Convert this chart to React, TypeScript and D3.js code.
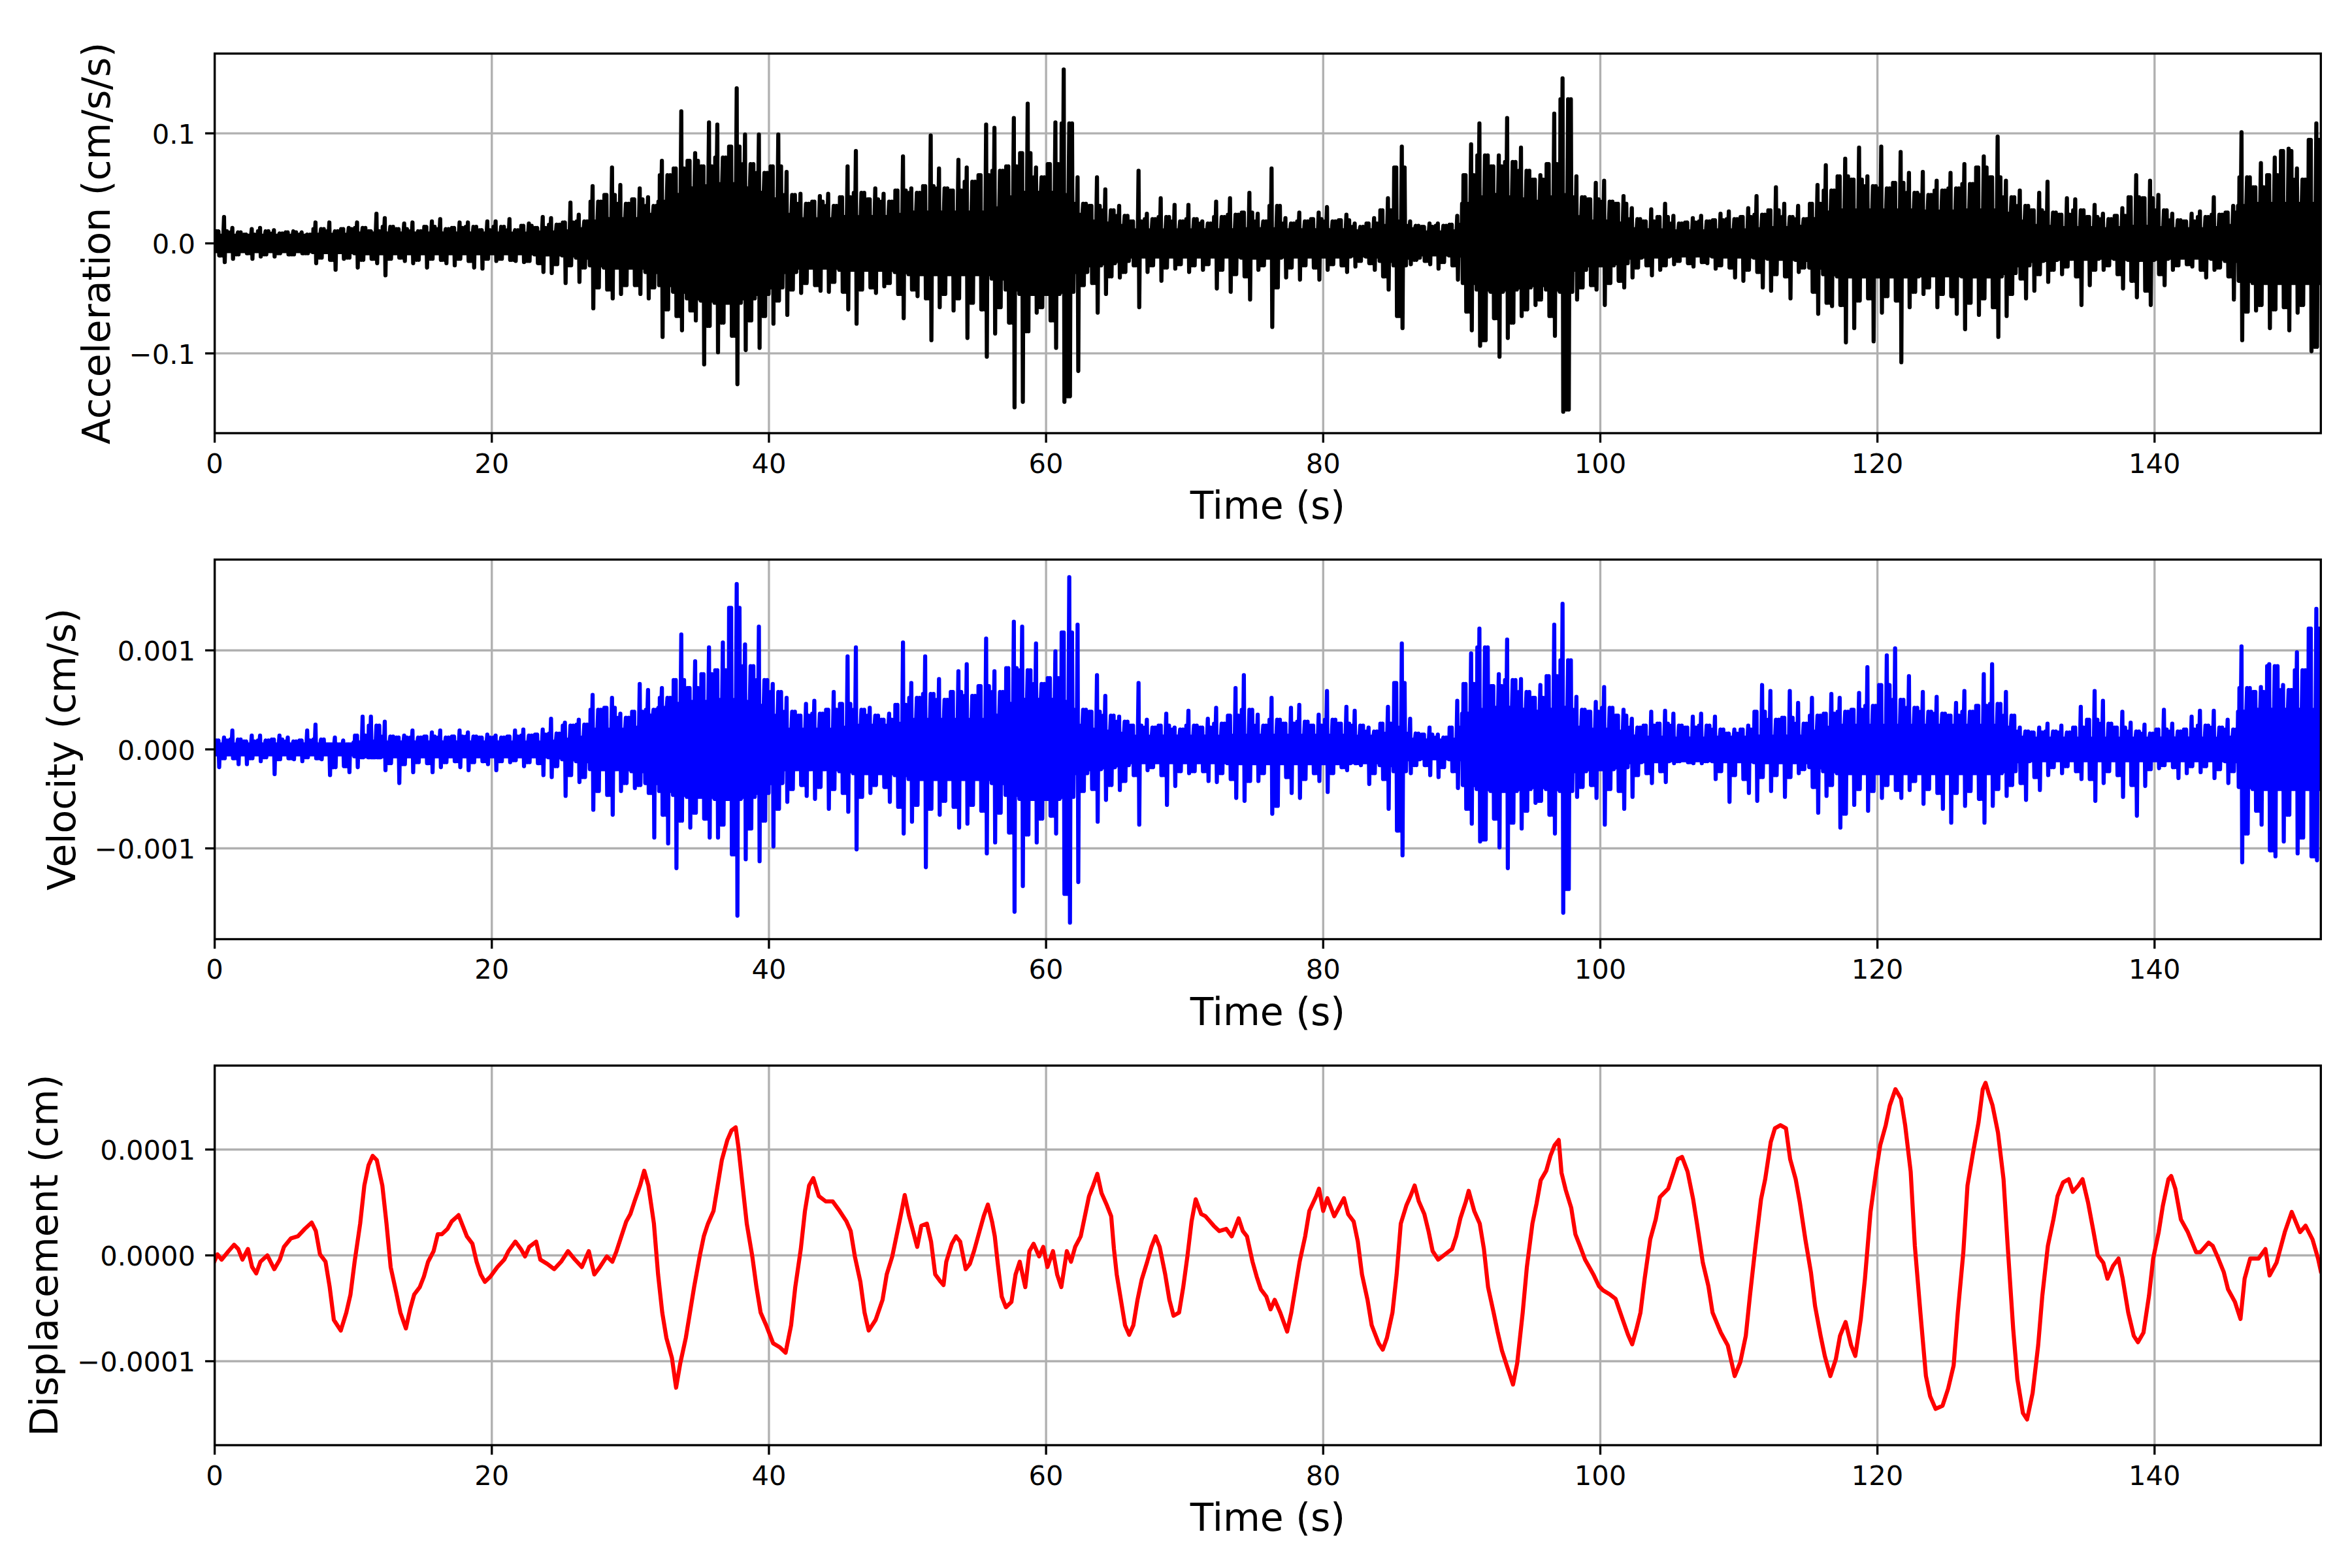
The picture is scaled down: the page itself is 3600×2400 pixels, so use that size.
import React from 'react';
import * as d3 from 'd3';

// ---------- DATA ----------
// Time axis
const timeMax = 152;
const xTickValues = [0, 20, 40, 60, 80, 100, 120, 140];
const xTickLabels = ['0', '20', '40', '60', '80', '100', '120', '140'];

// Acceleration trace, per 0.5 s bin: largest upward / downward excursion (units of 0.001 cm/s/s)
const accelHiMilli = [
  11,24, 14,10, 8,13, 14,11, 12,9, 10,11, 10,8, 19,13, 19,11, 13,14,
  19,14, 11,27, 23,15, 13,18, 19,11, 15,20, 22,13, 14,19, 19,15, 12,20,
  20,15, 22,12, 16,18, 14,24, 23,17, 19,37, 26,20, 52,38, 44,69, 53,36,
  40,50, 42,34, 75,62, 68,120, 75,82, 70,110, 108,78, 88,141, 99,72, 99,64,
  70,99, 65,44, 45,36, 38,43, 45,34, 42,70, 84,46, 40,50, 45,38, 48,79,
  50,46, 52,98, 68,50, 48,76, 69,56, 62,108, 105,66, 70,114, 82,127, 69,60,
  72,110, 158,109, 60,36, 34,60, 49,30, 34,25, 20,66, 27,22, 41,24, 35,20,
  35,22, 20,18, 38,24, 41,26, 28,46, 27,20, 68,34, 23,18, 28,20, 22,28,
  33,20, 21,26, 18,15, 18,23, 30,41, 69,88, 20,16, 15,18, 18,16, 17,25,
  62,90, 109,80, 70,80, 114,74, 87,66, 58,62, 72,118, 150,131, 61,42, 40,55,
  57,38, 36,43, 32,22, 20,31, 24,36, 25,18, 19,23, 25,20, 21,27, 29,22,
  24,32, 43,26, 30,51, 36,24, 34,22, 36,53, 71,48, 61,77, 58,87, 61,52,
  88,50, 55,83, 64,46, 65,44, 57,48, 64,50, 72,54, 69,79, 60,97, 57,42,
  48,34, 30,46, 56,28, 26,41, 40,30, 24,35, 27,22, 25,32, 42,62, 41,57,
  44,30, 27,21, 20,27, 29,24, 42,26, 28,34, 101,60, 51,73, 62,78, 84,86,
  68,58, 94,109,
];
const accelLoMilli = [
  -11,-17, -14,-10, -9,-14, -12,-10, -12,-9, -10,-10, -9,-9, -18,-13, -15,-24, -14,-13,
  -22,-15, -14,-18, -29,-14, -13,-16, -18,-15, -22,-14, -15,-18, -20,-14, -16,-22, -23,-14,
  -16,-14, -15,-16, -17,-16, -18,-26, -27,-19, -36,-20, -35,-22, -59,-40, -42,-50, -46,-38,
  -38,-46, -50,-40, -85,-60, -66,-79, -61,-70, -110,-75, -99,-72, -84,-128, -97,-70, -95,-66,
  -73,-52, -65,-42, -45,-36, -38,-43, -44,-35, -44,-60, -73,-42, -40,-45, -39,-36, -46,-68,
  -42,-48, -50,-88, -58,-46, -61,-50, -86,-54, -60,-103, -82,-58, -72,-149, -144,-80, -63,-58,
  -70,-95, -144,-139, -116,-38, -36,-63, -46,-30, -31,-26, -20,-58, -26,-20, -34,-22, -23,-19,
  -26,-20, -24,-19, -41,-24, -44,-28, -30,-51, -24,-20, -76,-40, -31,-22, -33,-20, -22,-33,
  -24,-19, -20,-26, -21,-16, -18,-24, -30,-42, -66,-77, -19,-15, -16,-19, -23,-17, -20,-33,
  -62,-79, -93,-88, -68,-103, -86,-72, -66,-60, -56,-51, -66,-84, -153,-151, -51,-40, -38,-42,
  -56,-36, -34,-40, -31,-22, -20,-29, -24,-20, -19,-16, -18,-21, -17,-18, -23,-20, -22,-31,
  -34,-24, -26,-40, -43,-28, -30,-50, -26,-22, -44,-64, -54,-57, -56,-90, -77,-52, -50,-89,
  -63,-48, -52,-108, -58,-44, -46,-40, -58,-46, -48,-64, -78,-54, -65,-50, -58,-85, -66,-46,
  -32,-50, -43,-28, -35,-24, -28,-21, -30,-56, -38,-24, -24,-20, -28,-41, -34,-49, -43,-56,
  -28,-38, -24,-20, -19,-21, -24,-31, -24,-22, -30,-51, -88,-62, -61,-56, -77,-60, -58,-79,
  -63,-56, -98,-94,
];
// Acceleration: half-width of the solid inner band of the trace, per 1 s (units of 0.001 cm/s/s)
const accelCoreMilli = [
  7,7,7,7,7,7,7,8,8,8,
  9,9,9,9,9,9,9,9,9,9,
  9,9,9,10,10,11,13,20,22,22,
  22,26,38,44,50,52,54,54,50,46,
  40,26,22,22,22,24,24,24,24,26,
  28,28,28,28,28,28,32,42,46,46,
  46,44,26,20,18,16,12,12,12,12,
  12,12,12,12,13,13,13,12,12,12,
  12,12,11,12,16,20,13,10,10,11,
  36,42,44,42,40,38,42,44,24,20,
  20,18,13,12,12,11,11,11,12,12,
  12,13,14,14,15,22,28,30,30,30,
  30,30,30,29,29,29,30,30,30,27,
  20,16,15,14,14,14,13,14,15,15,
  14,13,13,13,14,16,34,36,36,36,
  36,36,
];

// Velocity trace, per 0.5 s bin (units of 0.00001 cm/s)
const velocityHi1e5 = [
  9,12, 19,10, 8,14, 14,9, 10,14, 12,8, 9,19, 25,10, 3,12, 9,5,
  14,33, 33,24, 28,13, 12,14, 19,12, 13,17, 19,12, 13,19, 17,13, 12,15,
  14,12, 13,19, 20,14, 15,20, 31,16, 27,24, 30,25, 55,40, 42,52, 36,32,
  38,66, 60,40, 62,52, 70,116, 62,89, 76,103, 80,108, 143,167, 106,84, 124,70,
  66,58, 52,38, 34,46, 49,36, 40,58, 46,94, 103,40, 42,34, 30,36, 45,108,
  67,52, 94,56, 71,50, 58,79, 86,54, 64,112, 79,58, 82,129, 124,80, 107,66,
  72,99, 118,174, 126,40, 38,75, 54,34, 33,28, 24,67, 30,22, 24,36, 22,20,
  39,24, 22,31, 42,26, 34,62, 75,40, 35,24, 52,30, 26,42, 45,28, 24,35,
  59,30, 26,43, 39,24, 22,18, 26,43, 67,107, 31,16, 15,22, 15,12, 22,49,
  66,97, 122,103, 64,76, 111,70, 71,58, 52,65, 74,126, 147,90, 53,40, 38,48,
  63,42, 34,40, 31,22, 24,38, 26,39, 36,24, 22,33, 36,24, 33,20, 16,20,
  20,24, 38,65, 59,30, 32,59, 47,26, 52,34, 36,56, 52,38, 40,57, 83,44,
  65,95, 102,50, 74,42, 58,38, 53,36, 34,47, 59,38, 44,76, 86,46, 58,34,
  22,18, 17,22, 26,18, 24,17, 22,43, 30,59, 49,26, 22,38, 27,18, 25,16,
  20,40, 26,18, 20,33, 39,24, 39,22, 30,20, 104,62, 58,63, 86,84, 65,60,
  98,80, 122,142,
];
const velocityLo1e5 = [
  -18,-9, -9,-15, -15,-9, -12,-8, -25,-10, -9,-10, -12,-8, -9,-10, -26,-18, -17,-23,
  -18,-8, -6,0, -21,-14, -34,-15, -23,-13, -14,-23, -18,-13, -12,-18, -21,-13, -12,-15,
  -21,-12, -13,-11, -17,-13, -14,-26, -28,-17, -47,-26, -33,-28, -61,-42, -46,-66, -42,-34,
  -39,-36, -44,-89, -66,-95, -120,-72, -79,-64, -70,-89, -89,-76, -106,-168, -111,-80, -113,-72,
  -98,-60, -53,-40, -36,-47, -50,-38, -60,-40, -44,-63, -101,-48, -44,-36, -38,-53, -58,-85,
  -73,-56, -119,-60, -66,-52, -58,-79, -75,-56, -62,-105, -94,-64, -84,-164, -138,-86, -94,-70,
  -67,-85, -146,-175, -134,-42, -40,-73, -51,-36, -41,-32, -26,-76, -21,-18, -26,-56, -37,-22,
  -24,-22, -22,-32, -33,-24, -30,-49, -52,-32, -32,-24, -65,-57, -28,-44, -49,-30, -24,-32,
  -43,-24, -18,-21, -14,-16, -35,-24, -30,-60, -82,-107, -24,-16, -16,-26, -28,-18, -22,-39,
  -60,-75, -93,-91, -70,-99, -120,-74, -80,-62, -54,-52, -66,-85, -165,-141, -48,-38, -36,-49,
  -76,-40, -42,-60, -48,-26, -24,-34, -22,-33, -14,-12, -13,-14, -14,-12, -30,-22, -53,-26,
  -30,-44, -52,-28, -42,-26, -48,-28, -24,-20, -38,-64, -47,-36, -79,-65, -56,-40, -62,-42,
  -49,-36, -41,-49, -41,-32, -55,-40, -44,-60, -74,-44, -57,-42, -50,-74, -57,-40, -47,-36,
  -34,-51, -28,-41, -26,-18, -24,-17, -22,-30, -30,-52, -34,-22, -26,-48, -36,-67, -37,-20,
  -19,-16, -18,-29, -24,-17, -23,-17, -29,-20, -34,-22, -114,-85, -62,-76, -102,-108, -93,-66,
  -105,-89, -108,-112,
];
// Velocity: half-width of the solid inner band of the trace, per 1 s (units of 0.00001 cm/s)
const velocityCore1e5 = [
  5,5,5,5,5,5,5,5,5,5,
  7,8,7,7,7,7,7,7,7,7,
  7,7,7,7,8,10,12,20,20,20,
  22,34,42,46,48,48,50,50,48,44,
  34,20,20,20,20,22,24,24,24,26,
  30,30,30,30,30,30,34,46,50,50,
  50,48,24,20,18,16,13,13,13,13,
  13,13,13,14,14,14,14,14,14,14,
  14,14,13,13,16,22,10,9,9,10,
  36,40,42,42,40,38,40,42,22,20,
  20,18,13,12,12,11,11,11,12,12,
  12,13,13,13,13,18,22,24,24,24,
  24,24,24,24,24,24,24,24,24,22,
  12,11,11,11,11,11,11,11,11,11,
  11,11,11,11,11,12,38,40,40,40,
  40,40,
];

// Displacement samples: [time (s), displacement (units of 1e-6 cm)]
const displacementSamples: [number, number][] = [
  [0,-5],[0.2,1],[0.5,-4],[1.0,4],[1.4,10],[1.7,6],[2.0,-4],[2.4,6],[2.7,-11],[3.0,-17],[3.3,-6],[3.8,0],[4.3,-13],[4.7,-4],
  [5.0,8],[5.5,16],[6.0,18],[6.5,25],[7.0,31],[7.3,23],[7.6,1],[8.0,-6],[8.3,-30],[8.6,-61],[9.1,-71],[9.5,-54],[9.8,-37],
  [10.1,-6],[10.5,30],[10.8,66],[11.1,85],[11.4,94],[11.7,90],[12.1,66],[12.4,30],[12.7,-11],[13.1,-35],[13.4,-54],[13.8,-69],
  [14.1,-51],[14.4,-37],[14.8,-30],[15.1,-20],[15.4,-6],[15.8,4],[16.1,20],[16.4,20],[16.8,25],[17.1,32],[17.6,38],[17.9,28],
  [18.2,18],[18.6,11],[18.9,-6],[19.2,-18],[19.5,-25],[19.9,-20],[20.4,-11],[20.9,-4],[21.2,4],[21.7,13],[22.1,6],[22.4,-1],
  [22.7,8],[23.2,13],[23.5,-4],[24.0,-8],[24.5,-13],[25.0,-6],[25.5,4],[26.0,-4],[26.5,-11],[27.0,4],[27.4,-18],[27.8,-11],
  [28.3,-1],[28.7,-6],[29.0,4],[29.3,16],[29.7,32],[30.0,39],[30.3,51],[30.7,66],[31.0,80],[31.3,66],[31.7,30],[32.0,-18],
  [32.3,-54],[32.6,-78],[33.0,-97],[33.3,-125],[33.6,-102],[34.0,-78],[34.3,-54],[34.6,-30],[35.0,-1],[35.3,18],[35.6,30],
  [36.0,42],[36.3,66],[36.6,90],[37.0,109],[37.3,118],[37.6,121],[37.8,102],[38.1,66],[38.4,30],[38.8,-1],[39.1,-30],[39.4,-54],
  [39.8,-66],[40.3,-83],[40.8,-87],[41.2,-92],[41.6,-66],[41.9,-30],[42.3,6],[42.6,42],[42.9,66],[43.2,73],[43.6,56],[44.1,51],
  [44.6,51],[45.1,42],[45.6,32],[45.9,23],[46.2,-1],[46.6,-25],[46.9,-54],[47.2,-71],[47.7,-61],[48.2,-42],[48.5,-18],[48.9,-1],
  [49.2,18],[49.5,37],[49.8,57],[50.1,38],[50.4,23],[50.7,8],[51.0,28],[51.4,30],[51.7,13],[52.0,-18],[52.4,-25],[52.6,-28],
  [52.8,-6],[53.2,11],[53.5,18],[53.8,13],[54.2,-13],[54.5,-8],[54.8,4],[55.2,23],[55.5,37],[55.8,48],[56.1,32],[56.3,18],
  [56.5,-6],[56.8,-39],[57.1,-49],[57.5,-44],[57.8,-18],[58.1,-6],[58.5,-30],[58.8,4],[59.1,11],[59.5,-1],[59.8,8],[60.1,-11],
  [60.5,4],[60.8,-18],[61.1,-30],[61.5,4],[61.8,-6],[62.1,8],[62.5,18],[62.8,37],[63.1,56],[63.4,66],[63.7,77],[64.0,59],
  [64.4,47],[64.7,37],[64.9,6],[65.1,-18],[65.4,-42],[65.7,-66],[66.0,-75],[66.3,-66],[66.6,-42],[66.9,-23],[67.3,-6],[67.6,8],
  [67.9,18],[68.2,8],[68.6,-18],[68.9,-42],[69.2,-57],[69.6,-54],[69.9,-30],[70.2,-1],[70.5,32],[70.8,53],[71.2,39],[71.5,37],
  [72.1,28],[72.5,23],[73.0,25],[73.4,18],[73.9,35],[74.2,23],[74.5,18],[74.9,-6],[75.2,-20],[75.5,-32],[75.9,-39],[76.2,-51],
  [76.5,-42],[76.9,-54],[77.4,-72],[77.7,-54],[78.0,-30],[78.3,-6],[78.7,18],[79.0,42],[79.5,56],[79.7,63],[80.0,42],[80.3,54],
  [80.8,37],[81.5,54],[81.8,39],[82.2,32],[82.5,13],[82.8,-18],[83.2,-42],[83.5,-66],[84.0,-83],[84.3,-89],[84.6,-78],[85.0,-54],
  [85.3,-18],[85.6,30],[86.0,47],[86.3,56],[86.6,66],[86.9,51],[87.3,39],[87.6,23],[87.9,4],[88.3,-4],[88.8,1],[89.3,6],
  [89.6,18],[89.9,35],[90.3,51],[90.5,61],[90.9,42],[91.3,30],[91.6,6],[91.9,-30],[92.3,-54],[92.6,-73],[92.9,-90],[93.2,-102],
  [93.7,-122],[94.0,-102],[94.4,-54],[94.7,-11],[95.1,30],[95.4,49],[95.7,71],[96.1,80],[96.4,94],[96.7,104],[97.0,109],[97.2,78],
  [97.5,62],[97.9,45],[98.2,20],[98.5,10],[98.9,-4],[99.2,-11],[99.5,-18],[99.9,-29],[100.2,-33],[100.7,-37],[101.1,-41],[101.6,-60],
  [102.0,-75],[102.3,-84],[102.6,-70],[102.9,-54],[103.2,-22],[103.6,15],[104.0,34],[104.3,55],[104.9,63],[105.2,75],[105.6,91],
  [105.9,93],[106.3,79],[106.7,53],[107.0,28],[107.4,-7],[107.8,-29],[108.1,-54],[108.7,-73],[109.2,-85],[109.7,-114],[110.1,-101],
  [110.5,-76],[110.8,-38],[111.2,9],[111.6,53],[111.9,72],[112.3,107],[112.6,120],[113.0,123],[113.4,120],[113.7,91],[114.1,72],
  [114.4,50],[114.8,15],[115.2,-16],[115.5,-48],[115.9,-76],[116.2,-95],[116.6,-114],[117.0,-98],[117.3,-76],[117.7,-63],[118.1,-85],
  [118.4,-95],[118.8,-60],[119.1,-22],[119.5,41],[119.9,79],[120.2,104],[120.6,123],[120.9,142],[121.3,157],[121.7,148],[122.0,123],
  [122.4,79],[122.7,9],[123.1,-54],[123.5,-114],[123.8,-133],[124.2,-145],[124.7,-142],[125.1,-126],[125.5,-104],[125.8,-54],[126.2,3],
  [126.5,66],[126.9,97],[127.3,126],[127.6,157],[127.8,163],[128.0,154],[128.3,142],[128.7,116],[129.1,72],[129.4,9],[129.8,-70],
  [130.1,-117],[130.5,-149],[130.8,-155],[131.2,-130],[131.6,-85],[131.9,-38],[132.3,9],[132.7,34],[133.0,56],[133.4,69],[133.8,72],
  [134.1,60],[134.5,66],[134.8,72],[135.2,50],[135.6,22],[135.9,0],[136.3,-7],[136.6,-22],[137.0,-10],[137.4,-3],[137.7,-22],
  [138.1,-54],[138.5,-76],[138.8,-82],[139.2,-73],[139.6,-38],[139.9,-3],[140.3,22],[140.6,47],[141.0,72],[141.2,75],[141.5,63],
  [141.9,34],[142.4,22],[143.0,3],[143.3,3],[143.9,12],[144.2,9],[144.6,-3],[145.0,-16],[145.3,-32],[145.8,-44],[146.2,-60],
  [146.5,-22],[146.9,-3],[147.5,-3],[148.0,6],[148.3,-19],[148.8,-7],[149.4,22],[149.9,41],[150.5,22],[150.9,28],[151.4,15],
  [151.8,-3],[152.0,-15],
];

// Y ticks and labels
const accelTicks = [-0.1, 0, 0.1];
const accelTickLabels = ['\u22120.1', '0.0', '0.1'];
const velocityTicks = [-0.001, 0, 0.001];
const velocityTickLabels = ['\u22120.001', '0.000', '0.001'];
const displacementTicks = [-0.0001, 0, 0.0001];
const displacementTickLabels = ['\u22120.0001', '0.0000', '0.0001'];

// ---------- LAYOUT ----------
const W = 3600;
const H = 2400;
const X0 = 328.6;
const X1 = 3552.3;
const PANEL_H = 581;
const FONT = "'DejaVu Sans', Verdana, sans-serif";
const TICK_FS = 41.67;
const LABEL_FS = 58.33;
const TICK_LEN = 14.58;
const LW = 3.33;

// Dense trace drawing: every 0.5 s bin oscillates tightly across the solid band, reaches the
// smaller excursion of its second twice, and its own recorded extremes once.
const STEPS = 10;
function densePoints(hi: number[], lo: number[], core: number[], scale: number): [number, number][] {
  const pts: [number, number][] = [];
  const dt = 0.5 / STEPS;
  for (let j = 0; j < hi.length; j++) {
    const p = (j ^ 1) < hi.length ? j ^ 1 : j;
    const c = core[Math.floor(j / 2)] * scale;
    const H1 = Math.max(hi[j] * scale, c);
    const L1 = Math.min(lo[j] * scale, -c);
    const mH = Math.max(Math.min(hi[j], hi[p]) * scale, c);
    const mL = Math.min(Math.max(lo[j], lo[p]) * scale, -c);
    const seq =
      j % 2 === 0
        ? [c, -c, mH, -c, c, H1, L1, c, mL, -c]
        : [c, mL, c, H1, L1, c, -c, mH, -c, -c];
    for (let k = 0; k < STEPS; k++) {
      pts.push([j * 0.5 + (k + 0.5) * dt, seq[k]]);
    }
  }
  return pts;
}

type Panel = {
  key: string;
  top: number;
  domain: [number, number];
  ticks: number[];
  tickLabels: string[];
  label: string;
  labelX: number;
  color: string;
  points: [number, number][];
};

export default function App() {
  const x = d3.scaleLinear().domain([0, timeMax]).range([X0, X1]);

  const panels: Panel[] = [
    {
      key: 'acc', top: 82, domain: [-0.1725, 0.1725], ticks: accelTicks, tickLabels: accelTickLabels,
      label: 'Acceleration (cm/s/s)', labelX: 167.7, color: '#000000',
      points: densePoints(accelHiMilli, accelLoMilli, accelCoreMilli, 1e-3),
    },
    {
      key: 'vel', top: 856.5, domain: [-0.001917, 0.001917], ticks: velocityTicks, tickLabels: velocityTickLabels,
      label: 'Velocity (cm/s)', labelX: 114.7, color: '#0000ff',
      points: densePoints(velocityHi1e5, velocityLo1e5, velocityCore1e5, 1e-5),
    },
    {
      key: 'disp', top: 1631, domain: [-0.0001793, 0.0001793], ticks: displacementTicks, tickLabels: displacementTickLabels,
      label: 'Displacement (cm)', labelX: 88.2, color: '#ff0000',
      points: displacementSamples.map(([t, v]) => [t, v * 1e-6] as [number, number]),
    },
  ];

  return (
    <svg
      width={W}
      height={H}
      viewBox={`0 0 ${W} ${H}`}
      style={{ position: 'absolute', left: 0, top: 0, display: 'block', background: '#ffffff' }}
      fontFamily={FONT}
    >
      <rect x={0} y={0} width={W} height={H} fill="#ffffff" />
      <defs>
        {panels.map((p) => (
          <clipPath id={`clip-${p.key}`} key={p.key}>
            <rect x={X0} y={p.top} width={X1 - X0} height={PANEL_H} />
          </clipPath>
        ))}
      </defs>
      {panels.map((p) => {
        const bottom = p.top + PANEL_H;
        const y = d3.scaleLinear().domain(p.domain).range([bottom, p.top]);
        const line = d3
          .line<[number, number]>()
          .x((d) => x(d[0]))
          .y((d) => y(d[1]));
        return (
          <g key={p.key}>
            {xTickValues.map((t) => (
              <line key={`gx${t}`} x1={x(t)} x2={x(t)} y1={p.top} y2={bottom} stroke="#b0b0b0" strokeWidth={LW} />
            ))}
            {p.ticks.map((v) => (
              <line key={`gy${v}`} x1={X0} x2={X1} y1={y(v)} y2={y(v)} stroke="#b0b0b0" strokeWidth={LW} />
            ))}
            <path
              d={line(p.points) || ''}
              fill="none"
              stroke={p.color}
              strokeWidth={6.25}
              strokeLinejoin="round"
              strokeLinecap="square"
              clipPath={`url(#clip-${p.key})`}
            />
            <rect x={X0} y={p.top} width={X1 - X0} height={PANEL_H} fill="none" stroke="#000000" strokeWidth={LW} />
            {xTickValues.map((t, i) => (
              <g key={`xt${t}`}>
                <line x1={x(t)} x2={x(t)} y1={bottom} y2={bottom + TICK_LEN} stroke="#000000" strokeWidth={LW} />
                <text x={x(t)} y={bottom + 60.7} fontSize={TICK_FS} textAnchor="middle" fill="#000000">
                  {xTickLabels[i]}
                </text>
              </g>
            ))}
            {p.ticks.map((v, i) => (
              <g key={`yt${v}`}>
                <line x1={X0 - TICK_LEN} x2={X0} y1={y(v)} y2={y(v)} stroke="#000000" strokeWidth={LW} />
                <text x={X0 - 2 * TICK_LEN - 0.5} y={y(v) + 15.7} fontSize={TICK_FS} textAnchor="end" fill="#000000">
                  {p.tickLabels[i]}
                </text>
              </g>
            ))}
            <text x={(X0 + X1) / 2} y={bottom + 131} fontSize={LABEL_FS} textAnchor="middle" fill="#000000">
              Time (s)
            </text>
            <text
              transform={`translate(${p.labelX},${p.top + PANEL_H / 2}) rotate(-90)`}
              fontSize={LABEL_FS}
              textAnchor="middle"
              fill="#000000"
            >
              {p.label}
            </text>
          </g>
        );
      })}
    </svg>
  );
}
